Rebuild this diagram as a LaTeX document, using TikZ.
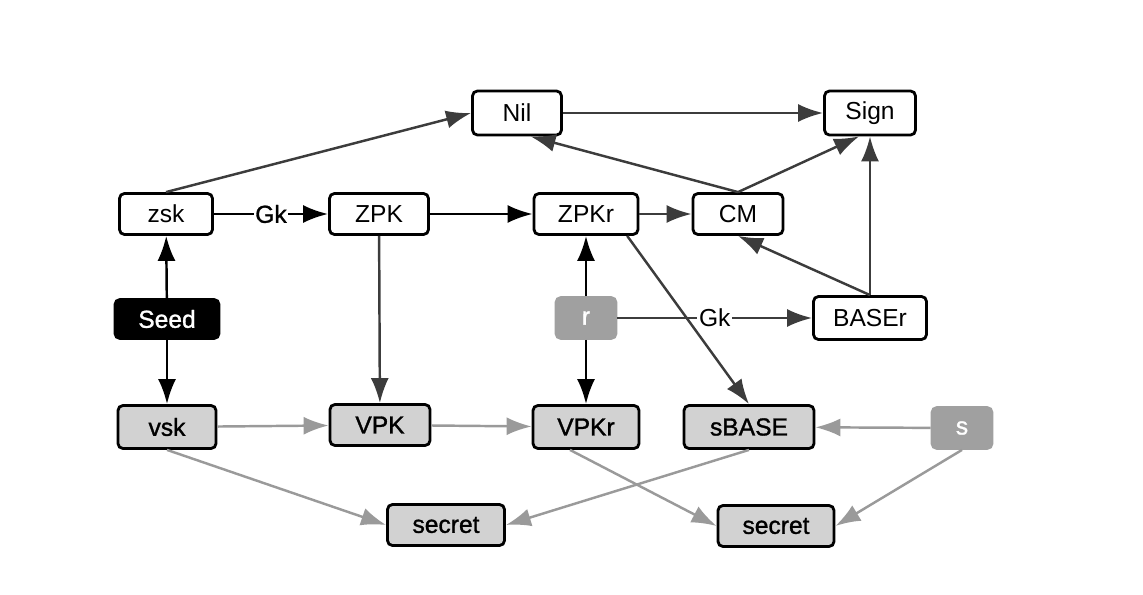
\documentclass[tikz,border=0pt]{standalone}
\usepackage{fontspec}
\setmainfont{Liberation Sans}
\newfontfamily\medfont[FakeBold=1.2]{Liberation Sans}
\usetikzlibrary{arrows.meta}
\definecolor{keyfill}{HTML}{D2D2D2}
\definecolor{randfill}{HTML}{A0A0A0}
\definecolor{darkline}{HTML}{3C3C3C}
\definecolor{lightline}{HTML}{9A9A9A}

\begin{document}
\begin{tikzpicture}[x=0.02cm, y=-0.02cm, >={Latex[length=0.5cm,width=0.36cm]},
  box/.style={draw, rounded corners=2.8pt, line width=1.6pt, minimum height=0.82cm, inner sep=0pt, font=\fontsize{14}{16}\selectfont},
  keybox/.style={box, fill=keyfill, font=\fontsize{14}{16}\medfont},
  randbox/.style={box, draw=randfill, fill=randfill, text=white, font=\fontsize{14}{16}\medfont},
  blk/.style={->, line width=1.4pt},
  dgr/.style={->, line width=1.4pt, draw=darkline},
  lgr/.style={->, line width=1.4pt, draw=lightline},
  lbl/.style={fill=white, inner sep=1pt, font=\fontsize{14}{16}\selectfont}]
\useasboundingbox (0,0) rectangle (1143,595);
% top row
\node[box, minimum width=1.78cm, minimum height=0.88cm] (nil) at (517,113) {Nil};
\node[box, minimum width=1.82cm, minimum height=0.88cm] (sign) at (870,113) {Sign};
% middle rows
\node[box, minimum width=1.86cm] (zsk) at (166,214) {zsk};
\node[box, minimum width=1.98cm] (zpk) at (379,214) {ZPK};
\node[box, minimum width=2.08cm] (zpkr) at (586,214) {ZPKr};
\node[box, minimum width=1.8cm] (cm) at (738,214) {CM};
\node[box, fill=black, text=white, font=\fontsize{14}{16}\medfont, minimum width=2.08cm, minimum height=0.78cm] (seed) at (167,319) {Seed};
\node[randbox, minimum width=1.2cm] (r) at (586,318) {r};
\node[box, minimum width=2.26cm, minimum height=0.86cm] (baser) at (870,318) {BASEr};
% bottom rows
\node[keybox, minimum width=1.96cm, minimum height=0.86cm] (vsk) at (167,427) {vsk};
\node[keybox, minimum width=2cm] (vpk) at (380,425) {VPK};
\node[keybox, minimum width=2.12cm, minimum height=0.86cm] (vpkr) at (586,427) {VPKr};
\node[keybox, minimum width=2.6cm, minimum height=0.86cm] (sbase) at (749,427) {sBASE};
\node[randbox, minimum width=1.2cm] (s) at (962,428) {s};
\node[keybox, minimum width=2.34cm] (sec1) at (446,525) {secret};
\node[keybox, minimum width=2.32cm] (sec2) at (776,526) {secret};

\draw[blk](seed)--(zsk);
\draw[blk](seed)--(vsk);
\draw[blk](zsk)--node[lbl,font=\fontsize{14}{16}\medfont]{Gk}(zpk);
\draw[blk](zpk)--(zpkr);
\draw[blk](r)--(zpkr);
\draw[blk](r)--(vpkr);

\draw[dgr](zsk.north)--(nil.west);
\draw[dgr](nil)--(sign);
\draw[dgr](cm.north)--(nil.-60);
\draw[dgr](cm.north)--(sign.-115);
\draw[dgr](baser.north)--(sign.south);
\draw[dgr](baser.north)--(cm.south);
\draw[dgr](zpkr)--(cm);
\draw[dgr](zpkr.-28)--(sbase.north);
\draw[dgr](r)--node[lbl]{Gk}(baser);
\draw[dgr](zpk)--(vpk);

\draw[lgr](vsk)--(vpk);
\draw[lgr](vpk)--(vpkr);
\draw[lgr](s)--(sbase);
\draw[lgr](vsk.south)--(sec1.west);
\draw[lgr](sbase.south)--(sec1.east);
\draw[lgr](vpkr.-125)--(sec2.west);
\draw[lgr](s.south)--(sec2.east);
\end{tikzpicture}
\end{document}
